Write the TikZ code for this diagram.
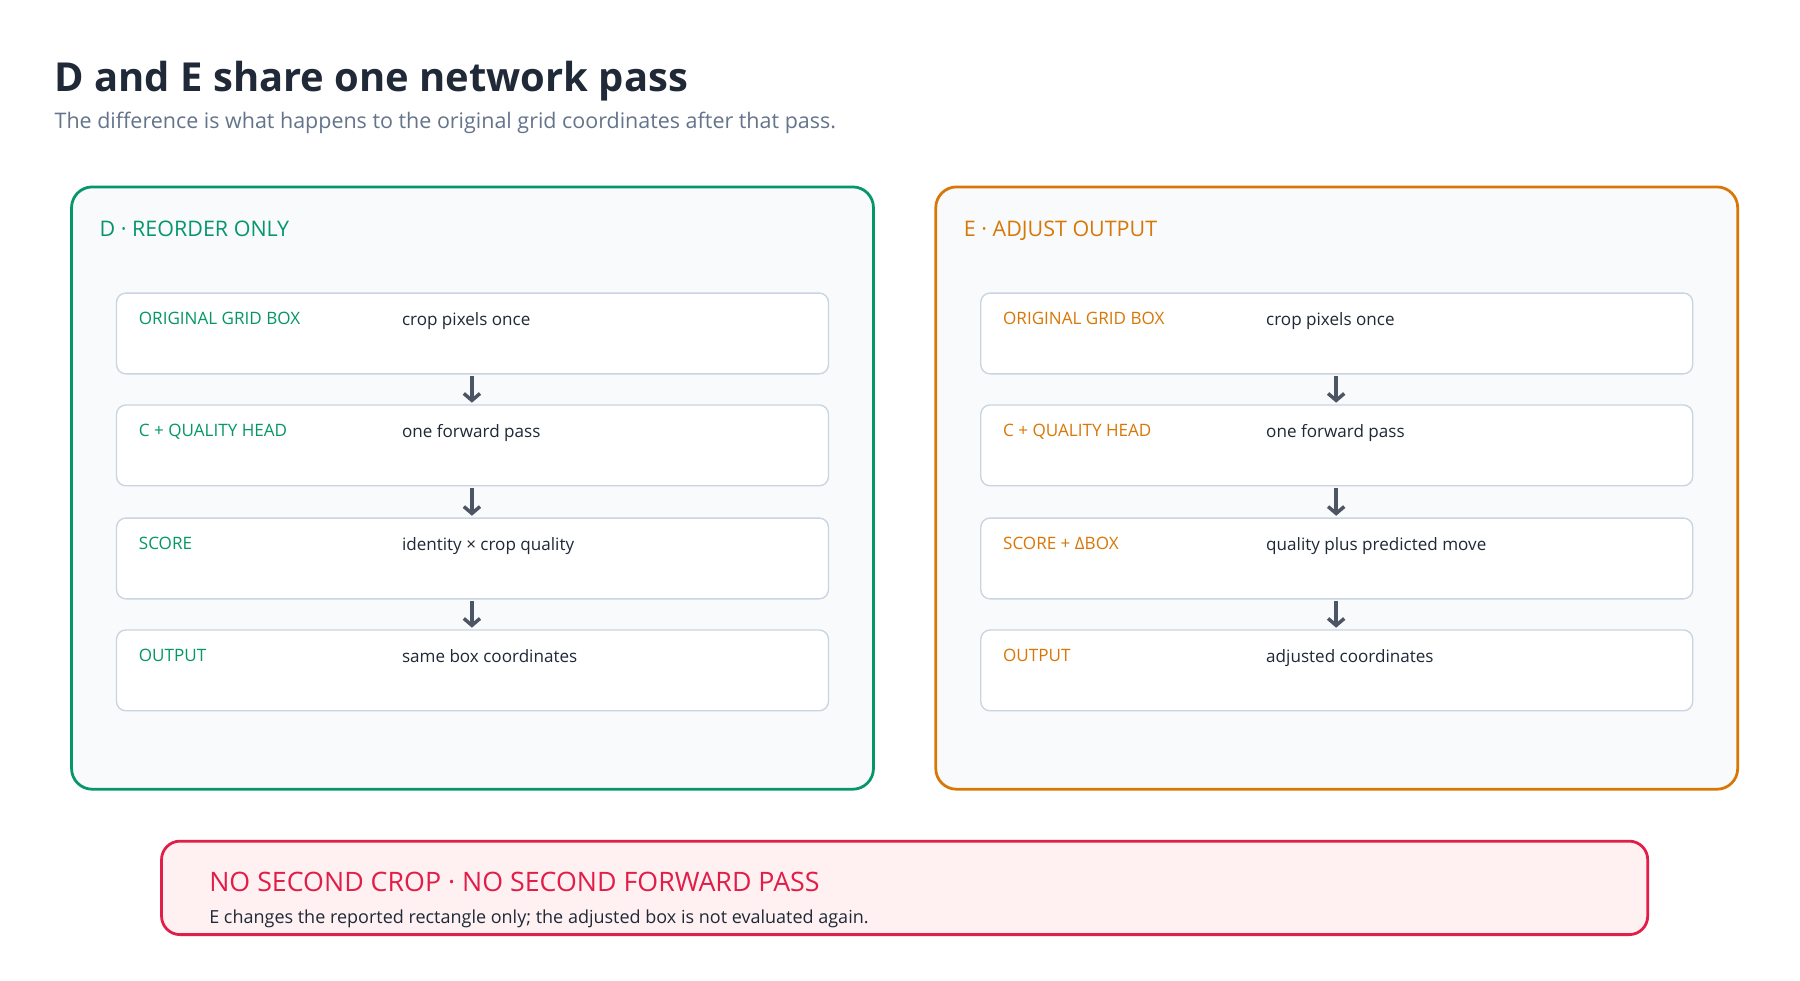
\documentclass[tikz,border=0pt]{standalone}
\usepackage{fontspec}
\setmainfont{Open Sans}
\usetikzlibrary{arrows.meta}
\definecolor{dgreen}{HTML}{059669}
\definecolor{dorange}{HTML}{D97706}
\definecolor{dred}{HTML}{E11D48}
\definecolor{ink}{HTML}{1F2937}
\definecolor{muted}{HTML}{64748B}
\definecolor{panelbg}{HTML}{F8FAFC}
\definecolor{rowline}{HTML}{CBD5E1}
\definecolor{arrowc}{HTML}{4B5563}
\definecolor{notebg}{HTML}{FFF1F2}
\begin{document}
\begin{tikzpicture}[x=0.5pt,y=-0.5pt,inner sep=0pt,
  panel/.style={draw=#1,line width=1.2pt,fill=panelbg,rounded corners=9pt},
  row/.style={draw=rowline,line width=0.6pt,fill=white,rounded corners=4pt},
  hdr/.style={anchor=base west,text=#1,font=\fontsize{9.3}{11}\selectfont},
  lab/.style={anchor=base west,text=#1,font=\fontsize{7.4}{9}\selectfont},
  val/.style={anchor=base west,text=ink,font=\fontsize{7.4}{9}\selectfont},
  arr/.style={draw=arrowc,line width=1.5pt,-{Straight Barb[length=3pt,width=7pt]}}]
\useasboundingbox (0,0) rectangle (1560,850);
\fill[white] (0,0) rectangle (1560,850);
\node[anchor=base west,text=ink,font=\fontsize{17.3}{21}\selectfont\bfseries] (title) at (47,79) {D and E share one network pass};
\node[anchor=base west,text=muted,font=\fontsize{9.3}{11}\selectfont] (sub) at (47,111) {The difference is what happens to the original grid coordinates after that pass.};

\foreach \dx/\col/\head/\la/\lb/\lc/\ld/\va/\vb/\vc/\vd/\nm in {
  0/dgreen/{D · REORDER ONLY}/{ORIGINAL GRID BOX}/{C + QUALITY HEAD}/{SCORE}/{OUTPUT}/{crop pixels once}/{one forward pass}/{identity × crop quality}/{same box coordinates}/D,
  749/dorange/{E · ADJUST OUTPUT}/{ORIGINAL GRID BOX}/{C + QUALITY HEAD}/{SCORE + ΔBOX}/{OUTPUT}/{crop pixels once}/{one forward pass}/{quality plus predicted move}/{adjusted coordinates}/E}{
  \begin{scope}[xshift=\dx*0.5pt]
  \draw[panel=\col] (62,162) rectangle (757,684);
  \node[hdr=\col] (\nm h) at (86,205) {\head};
  \foreach \y/\l/\v/\i in {254/\la/\va/1,351/\lb/\vb/2,449/\lc/\vc/3,546/\ld/\vd/4}{
    \draw[row] (101,\y) rectangle (718,\y+70);
    \node (\nm r\i) at (409,\y+35) {};
    \node[lab=\col] (\nm l\i) at (120,\y+27) {\l};
    \node[val] (\nm v\i) at (348,\y+28) {\v};
  }
  \coordinate (\nm a1) at (409,326); \coordinate (\nm b1) at (409,349);
  \coordinate (\nm a2) at (409,423); \coordinate (\nm b2) at (409,447);
  \coordinate (\nm a3) at (409,521); \coordinate (\nm b3) at (409,544);
  \draw[arr] (\nm a1) -- (\nm b1);
  \draw[arr] (\nm a2) -- (\nm b2);
  \draw[arr] (\nm a3) -- (\nm b3);
  \end{scope}
}
\draw[draw=dred,line width=1.2pt,fill=notebg,rounded corners=8pt] (140,729) rectangle (1428,810);
\node[anchor=base west,text=dred,font=\fontsize{11.6}{14}\selectfont] (n1) at (181,773) {NO SECOND CROP · NO SECOND FORWARD PASS};
\node[anchor=base west,text=ink,font=\fontsize{7.8}{10}\selectfont] (n2) at (181,800) {E changes the reported rectangle only; the adjusted box is not evaluated again.};
\end{tikzpicture}
\end{document}
